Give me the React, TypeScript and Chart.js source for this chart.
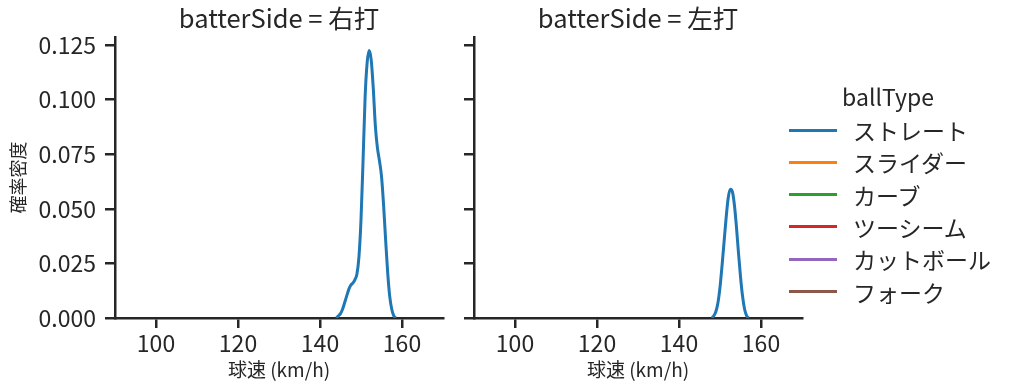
import React, { useEffect, useRef } from "react";
import { Chart, registerables } from "chart.js";

Chart.register(...registerables);

const FONT = '"Noto Sans CJK JP", "Noto Sans", sans-serif';
const INK = "#262626";

// ---- data ----
const panelNames = ["右打", "左打"];
const ballTypes = ["ストレート", "スライダー", "カーブ", "ツーシーム", "カットボール", "フォーク"];
const ballColors = ["#1f77b4", "#ff7f0e", "#2ca02c", "#d62728", "#9467bd", "#8c564b"];

// 右打 — ストレート density
const speedRight = [144, 144.5, 145, 145.5, 146, 146.5, 147, 147.5, 148, 148.5, 149, 149.5, 150, 150.5, 151, 151.5, 152, 152.5, 153, 153.5, 154, 154.5, 155, 155.5, 156, 156.5, 157, 157.5, 158, 158.5];
const densityRight = [0.0, 0.001, 0.002, 0.004, 0.007, 0.010, 0.013, 0.015, 0.016, 0.0175, 0.020, 0.028, 0.045, 0.072, 0.101, 0.117, 0.1225, 0.118, 0.105, 0.088, 0.078, 0.072, 0.065, 0.052, 0.036, 0.021, 0.010, 0.004, 0.001, 0.0];

// 左打 — ストレート density
const speedLeft = [148, 148.5, 149, 149.5, 150, 150.5, 151, 151.5, 152, 152.5, 153, 153.5, 154, 154.5, 155, 155.5, 156, 156.5, 157];
const densityLeft = [0.0, 0.001, 0.003, 0.007, 0.014, 0.024, 0.035, 0.046, 0.055, 0.059, 0.058, 0.052, 0.042, 0.030, 0.019, 0.010, 0.004, 0.001, 0.0];

const xTicks = [100, 120, 140, 160];
const yTicks = [0, 0.025, 0.05, 0.075, 0.1, 0.125];
const xMin = 90;
const xMax = 170;
const yMin = 0;
const yMax = 0.1287;

const xLabel = "球速 (km/h)";
const yLabel = "確率密度";
const legendTitle = "ballType";

function buildDatasets(speeds: number[], dens: number[]) {
  return ballTypes.map((name, i) => ({
    label: name,
    data: i === 0 ? speeds.map((s, k) => ({ x: s, y: dens[k] })) : [],
    borderColor: ballColors[i],
    backgroundColor: ballColors[i],
    borderWidth: 3,
    pointRadius: 0,
    fill: false,
    cubicInterpolationMode: "monotone" as const,
  }));
}

function makeOptions(title: string, first: boolean, yAxisWidth: number, rightPad: number) {
  return {
    animation: false,
    responsive: false,
    maintainAspectRatio: false,
    layout: { padding: { left: 0, right: rightPad, top: 0, bottom: 0 } },
    plugins: {
      legend: { display: false },
      tooltip: { enabled: false },
      title: {
        display: true,
        text: "batterSide = " + title,
        fullSize: false,
        color: INK,
        font: { family: FONT, size: 25.5, weight: "normal" },
        padding: { top: 3, bottom: 3.4 },
      },
    },
    scales: {
      x: {
        type: "linear",
        min: xMin,
        max: xMax,
        afterFit: (s: any) => {
          s.height = 73;
        },
        afterBuildTicks: (s: any) => {
          s.ticks = xTicks.map((v) => ({ value: v }));
        },
        grid: { drawOnChartArea: false, tickLength: 10, tickWidth: 2.5, tickColor: INK, lineWidth: 2.5, color: INK },
        border: { color: INK, width: 2.5 },
        ticks: { color: INK, font: { family: FONT, size: 23 }, padding: 1, maxRotation: 0, autoSkip: false },
        title: { display: true, text: xLabel, color: INK, font: { family: FONT, size: 19 }, padding: { top: 0, bottom: 10 } },
      },
      y: {
        type: "linear",
        min: yMin,
        max: yMax,
        afterFit: (s: any) => {
          s.width = yAxisWidth;
        },
        afterBuildTicks: (s: any) => {
          s.ticks = yTicks.map((v) => ({ value: v }));
        },
        grid: { drawOnChartArea: false, tickLength: 10, tickWidth: 2.5, tickColor: INK, lineWidth: 2.5, color: INK },
        border: { color: INK, width: 2.5 },
        ticks: {
          display: first,
          color: INK,
          font: { family: FONT, size: 23 },
          padding: 9,
          callback: (v: any) => Number(v).toFixed(3),
        },
        title: { display: first, text: yLabel, color: INK, font: { family: FONT, size: 18 }, padding: { top: 7, bottom: 0 } },
      },
    },
  } as any;
}

function Panel(props: { left: number; width: number; name: string; speeds: number[]; dens: number[]; first: boolean; yAxisWidth: number; rightPad: number }) {
  const ref = useRef<HTMLCanvasElement | null>(null);
  useEffect(() => {
    if (!ref.current) return;
    const chart = new Chart(ref.current, {
      type: "line",
      data: { datasets: buildDatasets(props.speeds, props.dens) as any },
      options: makeOptions(props.name, props.first, props.yAxisWidth, props.rightPad),
    });
    return () => chart.destroy();
  }, []);
  return (
    <canvas
      ref={ref}
      width={props.width}
      height={391}
      style={{ position: "absolute", left: props.left, top: 0, width: props.width, height: 391 }}
    />
  );
}

export default function App() {
  return (
    <div style={{ position: "absolute", left: 0, top: 0, width: 1012, height: 391, background: "#fff", fontFamily: FONT, color: INK }}>
      <Panel left={0} width={460} name={panelNames[0]} speeds={speedRight} dens={densityRight} first={true} yAxisWidth={115} rightPad={17} />
      <Panel left={460} width={552} name={panelNames[1]} speeds={speedLeft} dens={densityLeft} first={false} yAxisWidth={14} rightPad={210} />
      <div style={{ position: "absolute", left: 788, top: 80, width: 200, textAlign: "center", fontSize: 23, lineHeight: "32px", whiteSpace: "nowrap" }}>
        {legendTitle}
      </div>
      {ballTypes.map((name, i) => (
        <div key={name} style={{ position: "absolute", left: 789, top: 130 + i * 32.3 - 16, height: 32, display: "flex", alignItems: "center", whiteSpace: "nowrap" }}>
          <div style={{ width: 48, height: 3, background: ballColors[i] }} />
          <div style={{ marginLeft: 16, fontSize: 23, lineHeight: "32px" }}>{name}</div>
        </div>
      ))}
    </div>
  );
}
